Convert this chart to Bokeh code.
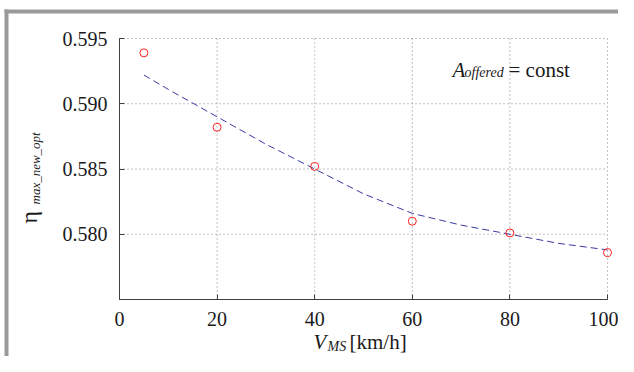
import math
from bokeh.plotting import figure
from bokeh.models import Range1d, FixedTicker, PrintfTickFormatter, Label, BoxAnnotation
from bokeh.embed import file_html
from bokeh.resources import INLINE

# measured points
speed = [5, 20, 40, 60, 80, 100]
eta = [0.5939, 0.5882, 0.5852, 0.5810, 0.5801, 0.5786]

# fitted curve
fit_speed = [5, 10, 20, 30, 40, 50, 60, 70, 80, 90, 100]
fit_eta = [0.5922, 0.5911, 0.5890, 0.5869, 0.5850, 0.5831, 0.5816, 0.5807, 0.5800, 0.5793, 0.5788]

# axes
X_MIN, X_MAX = 0, 100
Y_MIN, Y_MAX = 0.575, 0.595
x_ticks = [0, 20, 40, 60, 80, 100]
y_ticks = [0.580, 0.585, 0.590, 0.595]

SERIF = "Liberation Serif"
W, H = 618, 356
# pixel placement of the axes box inside the canvas
BOX_L, BOX_R, BOX_T, BOX_B = 119, 607, 38, 299
sx = (BOX_R - BOX_L) / (X_MAX - X_MIN)
sy = (BOX_B - BOX_T) / (Y_MAX - Y_MIN)

def px2x(px):
    return X_MIN + (px - BOX_L) / sx

def py2y(py):
    return Y_MAX - (py - BOX_T) / sy

p = figure(width=W, height=H, output_backend="svg", toolbar_location=None,
           x_range=Range1d(px2x(0), px2x(W)), y_range=Range1d(py2y(H), py2y(0)),
           min_border=0)
p.outline_line_color = None
p.background_fill_color = "white"
p.border_fill_color = "white"
p.grid.visible = False

# frame bands (grey border of the figure)
GREY = "#9a9a9a"
p.add_layout(BoxAnnotation(left=px2x(4), right=px2x(8), top=py2y(9), bottom=None,
                           fill_color=GREY, fill_alpha=1, line_color=None))
p.add_layout(BoxAnnotation(left=px2x(4), right=None, top=py2y(9), bottom=py2y(13),
                           fill_color=GREY, fill_alpha=1, line_color=None))

for ax in (p.xaxis[0], p.yaxis[0]):
    ax.axis_line_color = "#404040"
    ax.major_tick_line_color = "#404040"
    ax.major_tick_in = 5
    ax.major_tick_out = 0
    ax.minor_tick_line_color = None
    ax.major_label_text_font = SERIF
    ax.major_label_text_font_size = "20px"
    ax.major_label_text_color = "#1a1a1a"

p.xaxis.fixed_location = Y_MIN
p.yaxis.fixed_location = X_MIN
p.xaxis.bounds = (X_MIN, X_MAX)
p.yaxis.bounds = (Y_MIN, Y_MAX)
p.xaxis.ticker = FixedTicker(ticks=x_ticks)
p.yaxis.ticker = FixedTicker(ticks=y_ticks)
p.yaxis.formatter = PrintfTickFormatter(format="%.3f")
p.xaxis.major_label_standoff = 12
p.yaxis.major_label_standoff = 12

# dotted grid
grid_kw = dict(line_color="#666666", line_dash="1 3", line_alpha=0.8, line_width=1)
p.segment(x0=x_ticks, y0=[Y_MIN] * len(x_ticks), x1=x_ticks, y1=[Y_MAX] * len(x_ticks), **grid_kw)
p.segment(x0=[X_MIN] * len(y_ticks), y0=y_ticks, x1=[X_MAX] * len(y_ticks), y1=y_ticks, **grid_kw)

p.line(fit_speed, fit_eta, line_color="#3a3aa8", line_dash="7 4", line_width=1)
p.scatter(speed, eta, marker="circle", size=8, fill_color=None, line_color="#ff2020", line_width=1)

def lab(px, py, text, size, italic=False, angle=0.0):
    p.add_layout(Label(x=px2x(px), y=py2y(py), text=text, text_font=SERIF, text_font_size=size,
                       text_font_style="italic" if italic else "normal",
                       text_color="#1a1a1a", text_align="left", text_baseline="alphabetic",
                       angle=angle))

# annotation A_offered = const
lab(452, 69, "A", "21px", True)
lab(464, 72, "offered", "14px", True)
lab(508, 69, "= const", "21px")

# x axis label  V_MS [km/h]
lab(313, 341, "V", "21px", True)
lab(327, 346, "MS", "14px", True)
lab(349, 341, "[km/h]", "21px")

# y axis label  eta_max_new_opt
lab(28, 223, "\u03b7", "24px", False, math.pi / 2)
lab(35, 204, "max_new_opt", "13px", True, math.pi / 2)

open("out.html", "w").write(file_html(p, INLINE))
